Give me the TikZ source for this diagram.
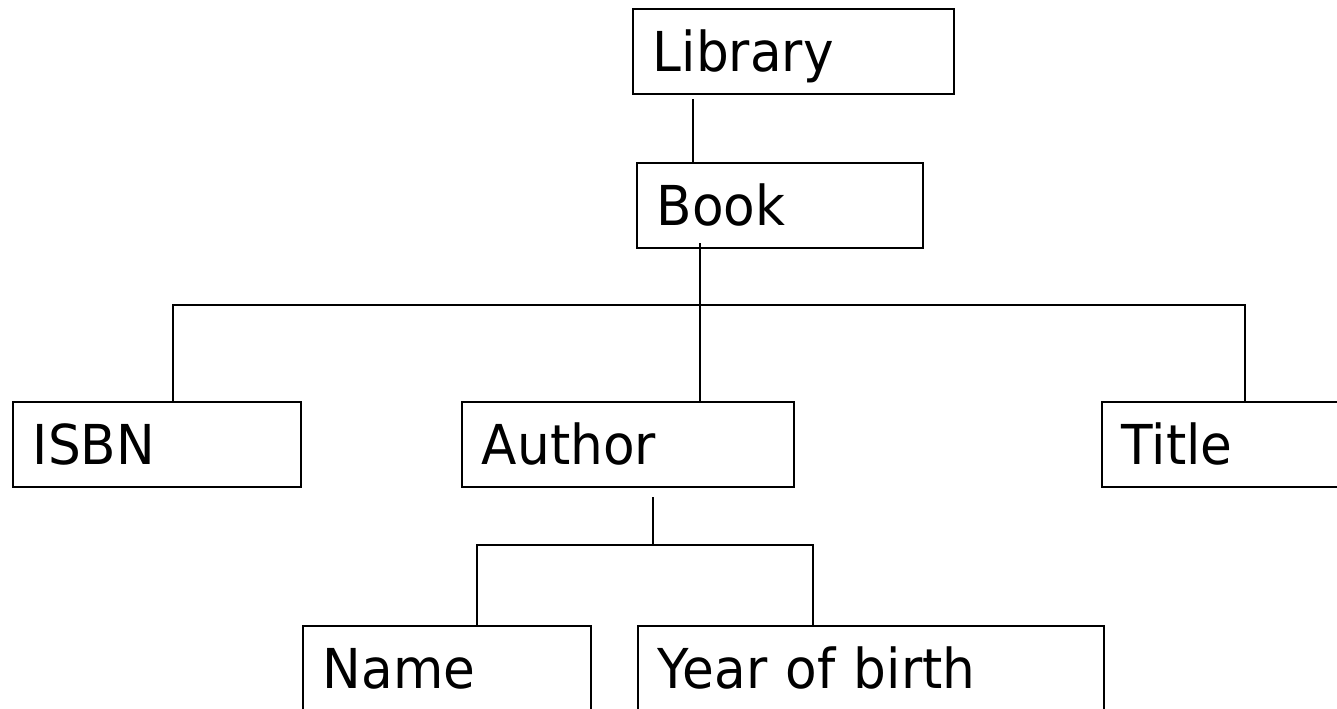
\documentclass[tikz,border=0pt]{standalone}
\usepackage{fontspec}
\setmainfont[FakeStretch=0.94]{DejaVu Sans}

\begin{document}
\begin{tikzpicture}[x=0.75pt,y=-0.75pt,
    entity/.style={draw, rectangle, line width=1.3pt, anchor=north west,
      inner xsep=15pt, inner ysep=0pt, minimum height=63.75pt,
      text height=30pt, text depth=0pt,
      font=\fontsize{41.25}{48}\selectfont}]
	\clip (0,0) rectangle (1337,708);
	\node[entity, text width=210.75pt] (library) at (632,8) {Library};
	\node[entity, text width=184.5pt] (book) at (636,162) {Book};
	\node[entity, text width=186pt] (isbn) at (12,401) {ISBN};
	\node[entity, text width=219pt] (author) at (461,401) {Author};
	\node[entity, text width=165pt] (title) at (1101,401) {Title};
	\node[entity, text width=186pt] (name) at (302,625) {Name};
	\node[entity, text width=319.5pt] (year) at (637,625) {Year of birth};

	\coordinate (libfoot) at (693,99);
	\coordinate (bookfoot) at (700,243);
	\coordinate (barL) at (173,305);
	\coordinate (barR) at (1245,305);
	\coordinate (authfoot) at (653,497);
	\coordinate (subL) at (477,545);
	\coordinate (subR) at (813,545);

	\draw[line width=1.3pt] (libfoot) -- (libfoot |- book.north);
	\draw[line width=1.3pt] (bookfoot) -- (bookfoot |- author.north);
	\draw[line width=1.3pt] (barL |- isbn.north) -- (barL) -- (barR) -- (barR |- title.north);
	\draw[line width=1.3pt] (authfoot) -- (authfoot |- subL);
	\draw[line width=1.3pt] (subL |- name.north) -- (subL) -- (subR) -- (subR |- year.north);
\end{tikzpicture}
\end{document}
